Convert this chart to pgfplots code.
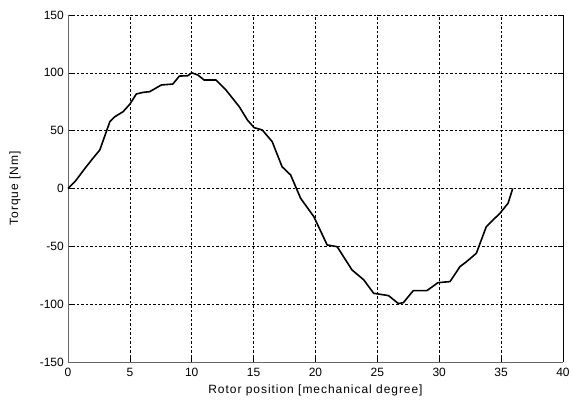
\documentclass[border=0pt]{standalone}
\usepackage{pgfplots}
\pgfplotsset{compat=1.18}
\usepackage{fontspec}
\setmainfont{Liberation Sans}
\newfontfamily\labelfont[LetterSpace=8]{Liberation Sans}

\begin{document}
\begin{tikzpicture}
\useasboundingbox (-68pt,-42pt) rectangle (506pt,362pt);
\begin{axis}[
  at={(0,0)}, anchor=south west,
  scale only axis,
  width=495pt, height=347pt,
  xmin=0, xmax=40, ymin=-150, ymax=150,
  xtick={0,5,...,40},
  ytick={-150,-100,...,150},
  axis x line=bottom,
  axis y line=box,
  x axis line style={-, draw=black!60, line width=0.8pt},
  y axis line style={-, draw=black!60, line width=0.8pt},
  tick align=inside,
  major tick length=5pt,
  tick style={black, line width=0.6pt},
  grid=major,
  major grid style={black, line width=0.6pt, dash pattern=on 2.5pt off 2pt},
  font=\fontsize{12}{14}\selectfont,
  /pgf/number format/assume math mode=true,
  xticklabel style={inner sep=0pt, anchor=north, yshift=-6pt},
  yticklabel style={inner sep=0pt, anchor=east, xshift=-4pt},
  yticklabel pos=left,
  xlabel={\labelfont\fontsize{12}{14}\selectfont Rotor position [mechanical degree]},
  ylabel={\labelfont\fontsize{12}{14}\selectfont Torque [Nm]},
  xlabel style={at={(axis description cs:0.5,-0.0807)}, anchor=center},
  ylabel style={at={(axis description cs:-0.1071,0.5)}, rotate=0, anchor=center},
  clip=false,
]
\addplot[black, line width=1.6pt, line join=round] coordinates {
  (0,0) (0.56,5.9) (1.37,17.4) (1.9,24.6) (2.57,33.3) (3.38,57.7)
  (3.78,62) (4.45,66.4) (4.99,72.8) (5.52,81.7) (6.06,83.1) (6.6,83.7)
  (7.54,89.5) (8.47,90.3) (9.0,97.2) (9.68,97.5) (10.0,100) (10.5,98.1)
  (11.0,93.8) (11.96,93.8) (12.77,85.1) (13.84,70.7) (14.5,59.2)
  (15.04,52.6) (15.7,50.6) (16.5,40.5) (17.3,18.8) (17.99,11.7)
  (18.8,-8.5) (19.87,-24.4) (20.94,-48.8) (21.75,-50.3) (22.95,-70.4)
  (23.9,-79) (24.7,-90.6) (25.9,-92.6) (26.7,-99.5) (27.1,-98.7)
  (27.9,-88.3) (29.0,-88.3) (29.9,-81.4) (30.87,-80.5) (31.67,-67.6)
  (32.2,-63.3) (33.0,-56) (33.8,-33) (34.35,-27.2) (34.9,-21.5)
  (35.56,-12.8) (35.94,0)
};
% right frame edge in black
\draw[black, line width=0.8pt] (rel axis cs:1,0) -- (rel axis cs:1,1);
\end{axis}
\end{tikzpicture}
\end{document}
